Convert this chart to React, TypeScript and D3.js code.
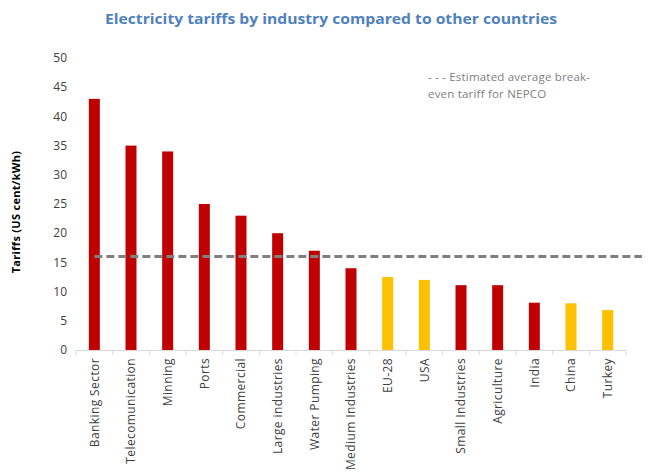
import React from "react";
import * as d3 from "d3";

const categories = ["Banking Sector","Telecomunication","Minning","Ports","Commercial","Large industries","Water Pumping","Medium Industries","EU-28","USA","Small Industries","Agriculture","India","China","Turkey"];
const values = [43,35,34,25,23,20,17,14,12.5,12,11.1,11.1,8.1,8,6.85];
const isCountry = [false,false,false,false,false,false,false,false,true,true,false,false,false,true,true];
const yTicks = [0,5,10,15,20,25,30,35,40,45,50];
const breakEven = 16;
const title = "Electricity tariffs by industry compared to other countries";
const yTitle = "Tariffs (US cent/kWh)";
const legendLines = ["- - - Estimated average break-", "even tariff for NEPCO"];

export default function App() {
  const W = 651, H = 473;
  const left = 76, right = 626, top = 58, bottom = 350;
  const x = d3.scaleBand<string>().domain(categories).range([left, right]).paddingInner(0.7).paddingOuter(0.35);
  const y = d3.scaleLinear().domain([0, 50]).range([bottom, top]);
  const step = x.step();
  const boundaries = categories.map(c => (x(c) as number) - step * 0.35).concat([right]);
  const font = "'Open Sans', sans-serif";
  return (
    <svg width={W} height={H} style={{ position: "absolute", left: 0, top: 0, background: "#fff" }}>
      <text x={331} y={24} textAnchor="middle" fontFamily={font} fontWeight="bold" fontSize={15} fill="#4F81BD" textLength={452} lengthAdjust="spacingAndGlyphs">{title}</text>
      {yTicks.map(t => (
        <text key={t} x={67} y={y(t)} dy="0.35em" textAnchor="end" fontFamily={font} fontSize={12} fill="#404040">{t}</text>
      ))}
      <text transform={`translate(20,${212}) rotate(-90)`} textAnchor="middle" fontFamily={font} fontWeight="bold" fontSize={11} fill="#000" letterSpacing={0.3}>{yTitle}</text>
      <line x1={left} x2={right} y1={bottom + 0.5} y2={bottom + 0.5} stroke="#D9D9D9" strokeWidth={1} />
      {boundaries.map((b, i) => (
        <line key={i} x1={b} x2={b} y1={bottom} y2={bottom + 5} stroke="#D9D9D9" strokeWidth={1} />
      ))}
      {categories.map((c, i) => (
        <rect key={c} x={x(c)} y={y(values[i])} width={x.bandwidth()} height={y(0) - y(values[i])} fill={isCountry[i] ? "#FFC000" : "#C00000"} />
      ))}
      <line x1={(x(categories[0]) as number) + x.bandwidth() / 2} x2={right + 16} y1={y(breakEven)} y2={y(breakEven)} stroke="#808080" strokeWidth={3} strokeDasharray="8,4" />
      {categories.map(c => (
        <text key={c} transform={`translate(${(x(c) as number) + x.bandwidth() / 2},${bottom + 8}) rotate(-90)`} dy="0.35em" textAnchor="end" fontFamily={font} fontSize={12} letterSpacing={0.4} fill="#404040">{c}</text>
      ))}
      {legendLines.map((l, i) => (
        <text key={i} x={428} y={81 + i * 17} fontFamily={font} fontSize={11.5} letterSpacing={0.2} fill="#808080">{l}</text>
      ))}
    </svg>
  );
}
